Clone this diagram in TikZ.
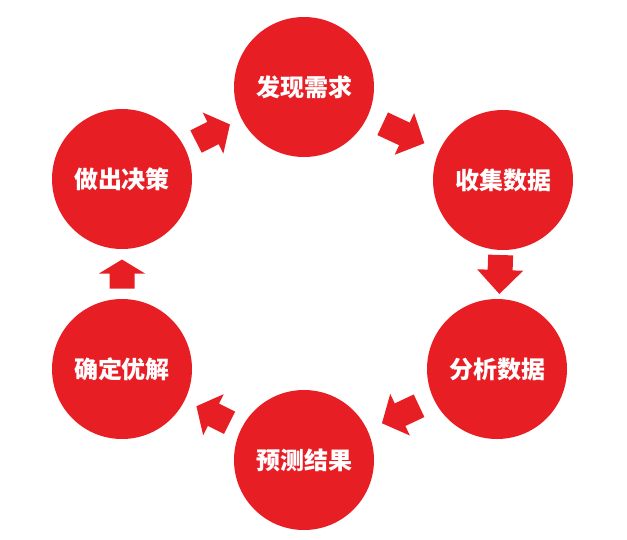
\documentclass[tikz,border=0pt]{standalone}
\usepackage{fontspec}
\newfontfamily\cjk{Noto Sans CJK SC}
\usetikzlibrary{calc}
\definecolor{cred}{RGB}{232,30,37}
\tikzset{
  stage/.style={circle, fill=cred, minimum size=140pt, inner sep=0pt, text=white,
    font=\cjk\bfseries\fontsize{24pt}{24pt}\selectfont},
  pics/barrow/.style n args={2}{code={
    \fill[cred] ({-#1/2},-12.5) -- ({-#1/2+#2},-12.5) -- ({-#1/2+#2},-23) -- ({#1/2},0)
      -- ({-#1/2+#2},23) -- ({-#1/2+#2},12.5) -- ({-#1/2},12.5) -- cycle;
  }}
}
\begin{document}
\begin{tikzpicture}[x=1pt,y=-1pt]
\useasboundingbox (0,0) rectangle (627,539);
\node[stage] (A) at (304,87) {发现需求};
\node[stage] (B) at (503,180) {收集数据};
\node[stage] (C) at (497,369) {分析数据};
\node[stage] (D) at (304,460) {预测结果};
\node[stage] (E) at (122,369) {确定优解};
\node[stage] (F) at (122,179) {做出决策};
\path let \p1=($(A)-(F)$), \n1={atan2(\y1,\x1)} in ($(F)!0.5!(A)$) pic[rotate=\n1] {barrow={38}{19}};
\path let \p1=($(B)-(A)$), \n1={atan2(\y1,\x1)} in ($(A)!0.5!(B)$) pic[rotate=\n1] {barrow={46}{24}};
\path let \p1=($(C)-(B)$), \n1={atan2(\y1,\x1)} in ($(B)!0.5!(C)$) pic[rotate=\n1] {barrow={39}{15}};
\path let \p1=($(D)-(C)$), \n1={atan2(\y1,\x1)} in ($(C)!0.5!(D)$) pic[rotate=\n1] {barrow={41}{21}};
\path let \p1=($(E)-(D)$), \n1={atan2(\y1,\x1)} in ($(D)!0.5!(E)$) pic[rotate=\n1] {barrow={37}{18}};
\path let \p1=($(F)-(E)$), \n1={atan2(\y1,\x1)} in ($(E)!0.5!(F)$) pic[rotate=\n1] {barrow={29}{15}};
\end{tikzpicture}
\end{document}
